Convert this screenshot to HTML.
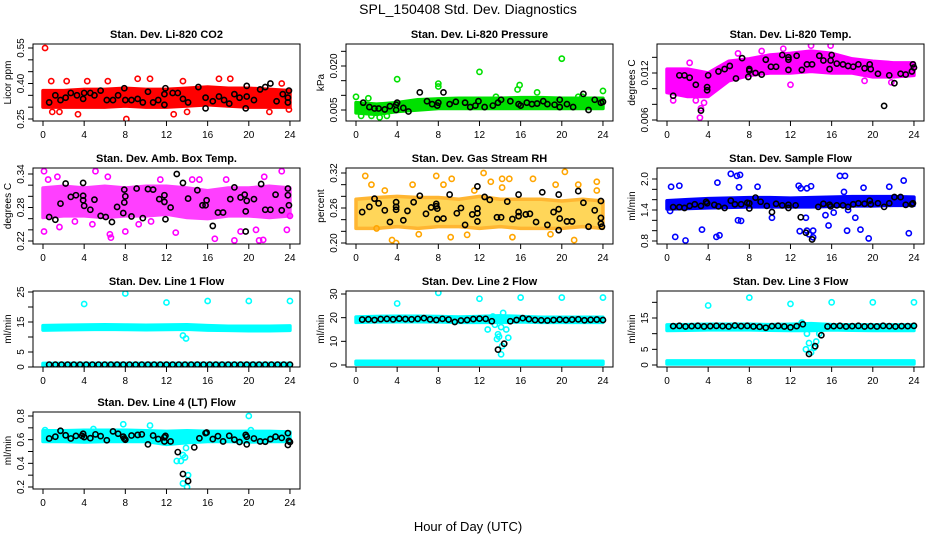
<!DOCTYPE html>
<html><head><meta charset="utf-8"><style>
html,body{margin:0;padding:0;background:#fff;}
svg{display:block;font-family:"Liberation Sans",Arial,sans-serif;}
</style></head><body>
<svg id="chart" width="936" height="540" viewBox="0 0 936 540" xmlns="http://www.w3.org/2000/svg">
<text x="468" y="14" text-anchor="middle" font-size="14">SPL_150408  Std. Dev. Diagnostics</text>
<text x="468" y="531" text-anchor="middle" font-size="13">Hour of Day (UTC)</text>
</svg>
<script>
const bandHours=[0,2,4,6,8,10,12,14,16,18,20,22,24];
const gridHours=[0.6,1.2,1.8,2.4,3.0,3.6,4.2,4.8,5.4,6.0,6.6,7.2,7.8,8.4,9.0,9.6,10.2,10.8,11.4,12.0,12.6,13.2,13.8,14.4,15.0,15.6,16.2,16.8,17.4,18.0,18.6,19.2,19.8,20.4,21.0,21.6,22.2,22.8,23.4,24.0];

const co2Lo=[0.30,0.30,0.30,0.30,0.305,0.30,0.30,0.305,0.31,0.305,0.30,0.30,0.30];
const co2Hi=[0.37,0.37,0.375,0.375,0.38,0.375,0.375,0.38,0.385,0.38,0.38,0.375,0.37];
const co2Out=[[0.2,0.55],[0.8,0.41],[2.3,0.41],[4.3,0.41],[8.1,0.25],[9.2,0.42],[10.4,0.42],[12.7,0.27],[14,0.28],[17.1,0.42],[18.2,0.42],[22,0.28],[23.2,0.40],[0.9,0.28],[1.6,0.28],[3.4,0.27],[23.9,0.29],[13.6,0.41],[6.3,0.41]];
const co2Blk=[[0.6,0.32],[1.2,0.35],[1.7,0.33],[2.2,0.34],[2.7,0.36],[3.3,0.35],[3.9,0.335],[4.0,0.36],[4.6,0.36],[5.0,0.35],[5.6,0.37],[6.2,0.33],[6.8,0.33],[7.3,0.35],[7.9,0.38],[8.0,0.33],[8.6,0.33],[9.2,0.335],[9.7,0.32],[10.2,0.365],[10.7,0.32],[11.2,0.33],[11.8,0.31],[11.8,0.355],[11.9,0.38],[12.6,0.36],[13.1,0.36],[13.6,0.335],[14.1,0.32],[15.1,0.385],[15.8,0.34],[15.8,0.295],[16.5,0.325],[17.1,0.345],[17.6,0.33],[18.1,0.315],[18.6,0.355],[19.1,0.34],[19.8,0.345],[19.8,0.39],[19.7,0.295],[20.5,0.33],[21.1,0.375],[21.6,0.385],[22.1,0.40],[22.7,0.325],[23.3,0.355],[23.8,0.34],[23.9,0.37],[23.8,0.32]];

const presLo=[0.004,0.0035,0.0045,0.005,0.0055,0.0055,0.0055,0.0055,0.0055,0.0055,0.0055,0.0055,0.0055];
const presHi=[0.0075,0.007,0.0075,0.0085,0.0088,0.009,0.009,0.009,0.0092,0.0092,0.009,0.009,0.009];
const presOut=[[0,0.0095],[1.2,0.009],[4,0.0155],[8,0.014],[8,0.013],[12,0.018],[13.6,0.0095],[15.7,0.012],[15.9,0.0135],[17.6,0.011],[20,0.0225],[21.6,0.0095],[22,0.0095],[24,0.0115],[0.5,0.003],[2.3,0.0025],[1.5,0.003],[3,0.003]];
const presBlk=[[0.7,0.0075],[1.3,0.006],[1.8,0.0055],[2.2,0.0055],[2.8,0.0052],[3.3,0.0063],[3.9,0.0068],[4.0,0.0075],[3.9,0.005],[4.6,0.0057],[5.1,0.0045],[6.2,0.011],[6.9,0.008],[7.4,0.007],[7.9,0.0065],[8.0,0.0075],[8.5,0.011],[9.1,0.007],[9.7,0.0078],[10.6,0.0075],[11.1,0.006],[11.6,0.0065],[11.9,0.008],[12.5,0.006],[13.3,0.0065],[13.8,0.0075],[14.1,0.0085],[15.0,0.008],[15.8,0.007],[16.0,0.0065],[16.6,0.0075],[17.1,0.007],[17.6,0.0072],[18.2,0.008],[18.6,0.007],[19.3,0.0068],[19.8,0.0085],[19.8,0.006],[20.5,0.007],[21.1,0.006],[22.1,0.0105],[22.6,0.005],[23.2,0.0085],[23.8,0.0075],[24,0.0078]];

const tempLo=[0.0095,0.009,0.009,0.011,0.0117,0.012,0.012,0.0122,0.012,0.012,0.0115,0.0115,0.0117];
const tempHi=[0.0125,0.0125,0.012,0.0135,0.0138,0.0143,0.0145,0.0148,0.0145,0.0138,0.0135,0.0133,0.0133];
const tempOut=[[3.2,0.0063],[3.3,0.0075],[0.6,0.0085],[14,0.0155],[15.9,0.0155],[11.3,0.0151],[12,0.0105],[9.2,0.0148],[6.9,0.0145],[2.2,0.0133],[21.8,0.0108],[19.2,0.011],[3.6,0.0082],[2.8,0.0085]];
const tempBlk=[[0.6,0.0091],[1.2,0.0117],[1.7,0.0117],[2.2,0.0114],[2.8,0.0105],[3.3,0.0072],[3.9,0.0098],[3.9,0.0102],[4.0,0.0117],[5.0,0.0122],[5.6,0.0125],[6.1,0.0129],[6.7,0.0113],[7.3,0.0139],[7.9,0.0115],[8.0,0.0123],[8.0,0.0125],[8.6,0.012],[9.2,0.0118],[9.6,0.0137],[10.1,0.0128],[10.6,0.0128],[11.2,0.0143],[11.8,0.014],[11.8,0.0137],[11.8,0.0124],[12.6,0.0142],[13.1,0.0124],[13.6,0.0131],[14.1,0.0131],[14.8,0.0142],[15.2,0.0136],[15.9,0.0136],[16.0,0.0143],[15.8,0.0125],[16.5,0.0132],[17.1,0.0131],[17.6,0.0129],[18.1,0.0128],[18.6,0.0131],[19.2,0.0126],[19.7,0.0131],[19.8,0.0125],[20.5,0.0119],[21.1,0.0078],[21.6,0.0117],[22.1,0.0107],[22.7,0.0119],[23.2,0.0118],[23.8,0.0122],[23.9,0.0131],[24,0.0127]];

const ambLo=[0.262,0.265,0.265,0.262,0.265,0.265,0.268,0.262,0.26,0.265,0.265,0.262,0.265];
const ambHi=[0.315,0.318,0.315,0.318,0.315,0.318,0.318,0.315,0.31,0.315,0.315,0.318,0.315];
const ambOut=[[0.1,0.345],[0.1,0.237],[0.5,0.33],[1.6,0.245],[5.1,0.345],[6.3,0.335],[6.5,0.232],[6.6,0.226],[8,0.237],[12.9,0.235],[16.7,0.224],[18.6,0.221],[19.2,0.237],[21,0.221],[21.4,0.222],[20.7,0.24],[23.2,0.345],[23.7,0.24],[24,0.265],[15.2,0.33],[11.4,0.33],[1.4,0.335],[4.8,0.25],[9.3,0.25],[14.5,0.33],[17.8,0.33],[21.5,0.335],[3.1,0.255],[10.5,0.255]];
const ambBlk=[[0.6,0.263],[1.2,0.258],[1.7,0.287],[2.2,0.323],[2.7,0.299],[3.2,0.302],[3.9,0.324],[3.9,0.301],[4.0,0.283],[3.9,0.293],[4.6,0.276],[5.0,0.294],[5.6,0.265],[6.1,0.263],[6.7,0.254],[7.2,0.281],[7.8,0.27],[7.9,0.312],[7.9,0.289],[8.0,0.3],[8.6,0.264],[9.1,0.314],[9.7,0.261],[10.2,0.313],[10.7,0.312],[11.3,0.295],[11.8,0.302],[11.9,0.259],[11.8,0.29],[12.4,0.28],[13.0,0.34],[13.6,0.324],[14.1,0.296],[15.0,0.311],[15.5,0.284],[15.8,0.284],[15.9,0.293],[16.5,0.247],[17.0,0.271],[17.5,0.271],[18.2,0.295],[18.6,0.316],[19.2,0.298],[19.6,0.303],[19.7,0.273],[19.8,0.292],[19.7,0.237],[20.5,0.295],[21.2,0.322],[21.6,0.276],[22.1,0.276],[22.6,0.303],[23.2,0.275],[23.8,0.314],[23.8,0.302],[23.9,0.284]];

const rhLo=[0.225,0.225,0.228,0.225,0.228,0.228,0.225,0.228,0.225,0.225,0.225,0.228,0.225];
const rhHi=[0.275,0.278,0.28,0.278,0.278,0.275,0.28,0.275,0.275,0.275,0.272,0.275,0.272];
const rhOut=[[0.9,0.315],[1.5,0.30],[2,0.225],[3.5,0.205],[3.9,0.20],[7.8,0.315],[9.3,0.31],[10.8,0.214],[12.4,0.32],[13.1,0.305],[14.2,0.31],[14.2,0.295],[14.9,0.31],[15.2,0.21],[17.2,0.31],[20.3,0.322],[21.2,0.205],[21.6,0.30],[23.4,0.305],[23.4,0.29],[8.5,0.30],[9.2,0.21],[2.8,0.29],[5.5,0.30],[6.1,0.215],[11.5,0.29],[18.9,0.215],[19.4,0.30]];
const rhBlk=[[0.6,0.253],[1.3,0.262],[1.8,0.276],[2.2,0.268],[2.8,0.256],[3.3,0.236],[3.9,0.27],[3.9,0.257],[3.9,0.262],[4.6,0.239],[5.0,0.255],[5.6,0.27],[6.2,0.281],[6.8,0.25],[7.3,0.261],[7.8,0.267],[7.8,0.263],[7.9,0.259],[7.9,0.241],[8.5,0.242],[9.1,0.283],[9.8,0.251],[10.2,0.26],[10.6,0.231],[11.3,0.249],[11.8,0.237],[11.8,0.259],[11.8,0.251],[11.8,0.297],[12.5,0.279],[13.0,0.274],[13.7,0.244],[14.1,0.244],[14.7,0.271],[15.2,0.241],[15.8,0.283],[15.8,0.253],[15.8,0.246],[16.5,0.249],[16.9,0.25],[17.5,0.236],[18.1,0.287],[18.6,0.231],[19.2,0.253],[19.7,0.283],[19.7,0.258],[19.7,0.222],[19.8,0.242],[20.5,0.237],[21.0,0.237],[21.6,0.289],[22.1,0.269],[22.6,0.228],[23.2,0.256],[23.8,0.272],[23.8,0.243],[23.8,0.233],[23.9,0.228]];

const flowLo=[1.42,1.43,1.44,1.45,1.46,1.46,1.46,1.46,1.47,1.48,1.48,1.49,1.49];
const flowHi=[1.58,1.6,1.62,1.63,1.64,1.64,1.63,1.64,1.65,1.66,1.66,1.66,1.65];
const flowOut=[[0.4,1.85],[1.2,1.87],[0.8,0.88],[1.8,0.81],[3.4,1.02],[4.8,0.88],[5.1,0.91],[4.9,1.93],[6.2,2.1],[6.8,2.06],[7.1,2.08],[6.9,1.2],[7.2,1.19],[7.0,1.84],[8.8,1.85],[10.2,1.25],[12.9,0.99],[12.8,1.87],[13.0,1.82],[13.5,1.25],[13.6,1.0],[13.8,0.93],[14.2,1.0],[13.6,1.82],[15.7,1.1],[15.4,1.3],[16.8,2.06],[17.3,2.06],[17.5,1.0],[17.6,1.4],[18.3,1.25],[18.8,1.02],[19.6,0.85],[19.1,1.83],[21.6,1.85],[23.0,1.97],[23.5,0.95],[14,1.86],[14.2,0.87],[0.3,1.38],[16.2,1.35],[17.2,1.75]];
const flowBlk=[[0.6,1.455],[1.2,1.455],[1.7,1.44],[2.2,1.48],[2.7,1.51],[3.3,1.48],[3.8,1.56],[3.9,1.53],[4.6,1.5],[5.0,1.47],[5.6,1.44],[6.2,1.58],[6.6,1.51],[7.2,1.51],[7.8,1.54],[8.0,1.53],[8.0,1.43],[8.6,1.64],[9.1,1.56],[9.7,1.48],[10.2,1.36],[10.6,1.52],[11.2,1.49],[11.8,1.5],[11.8,1.44],[12.5,1.49],[13.0,1.26],[13.5,0.96],[14.1,0.83],[14.7,1.46],[15.2,1.52],[15.8,1.5],[15.9,1.47],[16.5,1.49],[17.1,1.49],[17.6,1.46],[18.1,1.51],[18.6,1.53],[19.2,1.52],[19.7,1.58],[19.8,1.51],[20.5,1.53],[21.1,1.46],[21.6,1.53],[22.1,1.65],[22.7,1.65],[23.2,1.5],[23.8,1.51],[23.9,1.53]];

const l1Lo=[12.3,12.4,12.5,12.6,12.5,12.4,12.5,12.6,12.3,12.2,12.1,12.1,12.2];
const l1Hi=[13.8,13.9,14.0,14.1,14.0,13.9,14.0,14.1,13.8,13.6,13.6,13.6,13.7];
const l1Lo2=[0.2,0.2,0.2,0.2,0.2,0.2,0.2,0.2,0.2,0.2,0.2,0.2,0.2];
const l1Hi2=[1.2,1.2,1.2,1.2,1.2,1.2,1.2,1.2,1.2,1.2,1.2,1.2,1.2];
const l1Out=[[4,21],[8,24.5],[12,21.5],[16,22],[20,22],[24,22],[13.6,10.5],[13.9,9.5]];
const l1Blk=[0.8,0.8,0.8,0.8,0.8,0.8,0.8,0.8,0.8,0.8,0.8,0.8,0.8,0.8,0.8,0.8,0.8,0.8,0.8,0.8,0.8,0.8,0.8,0.8,0.8,0.8,0.8,0.8,0.8,0.8,0.8,0.8,0.8,0.8,0.8,0.8,0.8,0.8,0.8,0.8];

const l2Lo=[18.0,18.2,18.3,18.3,18.2,18.0,18.0,18.0,18.2,18.0,18.0,18.0,18.0];
const l2Hi=[20.3,20.5,20.6,20.6,20.5,20.3,20.5,20.8,20.5,20.2,20.2,20.2,20.2];
const l2Lo2=[0.3,0.3,0.3,0.3,0.3,0.3,0.3,0.3,0.3,0.3,0.3,0.3,0.3];
const l2Hi2=[1.6,1.6,1.6,1.6,1.6,1.6,1.6,1.6,1.6,1.6,1.6,1.6,1.6];
const l2Out=[[4,26],[8,30.5],[12,28],[16,28.5],[20,28.5],[24,28.5],[12.8,15],[13.5,17],[13.7,11],[13.8,13],[13.9,12],[14.1,4.5],[14.1,16],[14.3,22],[14.6,15],[14.8,11.5],[14.2,8],[14.5,20],[13.3,20.5]];
const l2Blk=[19.2,19.3,19.0,19.4,19.5,19.3,19.6,19.4,19.3,19.5,19.8,19.3,19.0,19.5,19.2,18.2,18.8,19.0,19.4,19.6,19.5,18.5,6.5,9.0,18.5,19.0,19.8,19.4,19.0,18.9,18.8,19.0,19.2,19.0,19.2,19.3,18.9,19.1,19.2,19.0];

const l3Lo=[11.0,11.1,11.2,11.2,11.2,11.1,11.0,11.0,11.2,11.1,11.0,11.0,11.0];
const l3Hi=[12.8,12.9,13.0,13.0,13.0,12.9,13.0,13.2,12.9,12.8,12.8,12.8,12.8];
const l3Lo2=[0.3,0.3,0.3,0.3,0.3,0.3,0.3,0.3,0.3,0.3,0.3,0.3,0.3];
const l3Hi2=[1.3,1.3,1.3,1.3,1.3,1.3,1.3,1.3,1.3,1.3,1.3,1.3,1.3];
const l3Out=[[4,19],[8,21.5],[12,19.5],[16,20],[20,20],[24,20],[13.5,5],[13.8,7],[14,4],[14.3,5.5],[14.5,7.5],[14.8,10],[13.1,13.5],[13.6,10]];
const l3Blk=[12.4,12.5,12.3,12.4,12.5,12.3,12.4,12.5,12.4,12.3,12.6,12.4,12.5,12.3,12.2,11.9,12.4,12.5,12.3,12.0,12.4,13.0,3.5,6.0,9.5,12.3,12.4,12.5,12.3,12.4,12.5,12.3,12.4,12.3,12.5,12.4,12.3,12.4,12.4,12.5];

const l4Lo=[0.585,0.585,0.58,0.585,0.585,0.585,0.56,0.575,0.585,0.585,0.58,0.585,0.585];
const l4Hi=[0.675,0.675,0.68,0.68,0.68,0.675,0.67,0.675,0.67,0.67,0.67,0.67,0.665];
const l4Out=[[7.8,0.73],[10.4,0.72],[20,0.80],[13,0.42],[13.4,0.42],[13.8,0.45],[13.9,0.53],[14.1,0.30],[13.6,0.23],[14,0.20],[13.6,0.47],[20.2,0.68],[0.2,0.68],[4.9,0.69]];
const l4Blk=[[0.6,0.61],[1.2,0.625],[1.7,0.675],[2.2,0.637],[2.7,0.61],[3.2,0.632],[3.8,0.632],[3.9,0.65],[4.0,0.622],[4.6,0.613],[5.1,0.645],[5.6,0.63],[6.2,0.595],[6.8,0.67],[7.3,0.65],[7.8,0.625],[7.9,0.61],[8.0,0.6],[8.6,0.635],[9.2,0.64],[9.6,0.645],[10.2,0.56],[10.7,0.635],[11.2,0.605],[11.8,0.585],[11.9,0.632],[11.8,0.62],[12.4,0.585],[13.1,0.495],[13.6,0.31],[14.1,0.25],[14.7,0.535],[15.2,0.612],[15.8,0.655],[15.9,0.66],[16.5,0.605],[17.0,0.63],[17.5,0.585],[18.1,0.633],[18.6,0.6],[19.1,0.58],[19.7,0.64],[19.8,0.625],[19.8,0.56],[20.5,0.61],[21.1,0.585],[21.6,0.583],[22.1,0.605],[22.6,0.625],[23.2,0.615],[23.8,0.655],[23.8,0.555],[23.9,0.59],[24,0.58]];

const xTicks=[0,4,8,12,16,20,24];

const svg=document.getElementById('chart');
const NS='http://www.w3.org/2000/svg';
function mk(tag,attrs,parent){const e=document.createElementNS(NS,tag);for(const k in attrs)e.setAttribute(k,attrs[k]);(parent||svg).appendChild(e);return e;}
const colX=[43,356,667];
const rowY=[[44,121],[168,244],[291,367],[412,489]];
const PXH=10.29;

const panels=[
 {name:'co2',title:'Stan. Dev. Li-820 CO2',ylab:'Licor ppm',col:0,row:0,a:[0.25,119],b:[0.55,48],ticks:[0.25,0.30,0.35,0.40,0.45,0.50,0.55],labels:['0.25','0.40','0.55'],color:'#ff0000',bands:[[co2Lo,co2Hi]],out:co2Out,blk:co2Blk},
 {name:'pressure',title:'Stan. Dev. Li-820 Pressure',ylab:'kPa',col:1,row:0,a:[0.005,110],b:[0.020,66],ticks:[0.005,0.010,0.015,0.020,0.025],labels:['0.005','0.020'],color:'#00e000',bands:[[presLo,presHi]],out:presOut,blk:presBlk},
 {name:'temp',title:'Stan. Dev. Li-820 Temp.',ylab:'degrees C',col:2,row:0,a:[0.006,120],b:[0.012,73],ticks:[0.006,0.008,0.010,0.012,0.014],labels:['0.006','0.012'],color:'#ff00ff',bands:[[tempLo,tempHi]],out:tempOut,blk:tempBlk},
 {name:'amb-box-temp',title:'Stan. Dev. Amb. Box Temp.',ylab:'degrees C',col:0,row:1,a:[0.22,241],b:[0.34,174],ticks:[0.22,0.24,0.26,0.28,0.30,0.32,0.34],labels:['0.22','0.28','0.34'],color:'#ff00ff',op:0.75,bands:[[ambLo,ambHi]],out:ambOut,blk:ambBlk},
 {name:'gas-rh',title:'Stan. Dev. Gas Stream RH',ylab:'percent',col:1,row:1,a:[0.20,243],b:[0.32,173],ticks:[0.20,0.22,0.24,0.26,0.28,0.30,0.32],labels:['0.20','0.26','0.32'],color:'#ffa500',fill:'#ffcc30',op:0.8,bands:[[rhLo,rhHi]],out:rhOut,blk:rhBlk},
 {name:'sample-flow',title:'Stan. Dev. Sample Flow',ylab:'ml/min',col:2,row:1,a:[0.8,241],b:[2.0,179],ticks:[0.8,1.0,1.2,1.4,1.6,1.8,2.0],labels:['0.8','1.4','2.0'],color:'#0000ff',bands:[[flowLo,flowHi]],out:flowOut,blk:flowBlk},
 {name:'line1-flow',title:'Stan. Dev. Line 1 Flow',ylab:'ml/min',col:0,row:2,a:[0,367],b:[25,292],ticks:[0,5,10,15,20,25],labels:['0','5','15','25'],color:'#00ffff',bands:[[l1Lo,l1Hi],[l1Lo2,l1Hi2]],out:l1Out,blkGrid:l1Blk},
 {name:'line2-flow',title:'Stan. Dev. Line 2 Flow',ylab:'ml/min',col:1,row:2,a:[0,365],b:[30,294],ticks:[0,10,20,30],labels:['0','10','20','30'],color:'#00ffff',bands:[[l2Lo,l2Hi],[l2Lo2,l2Hi2]],out:l2Out,blkGrid:l2Blk},
 {name:'line3-flow',title:'Stan. Dev. Line 3 Flow',ylab:'ml/min',col:2,row:2,a:[0,365],b:[15,318],ticks:[0,5,10,15,20],labels:['0','5','15'],color:'#00ffff',bands:[[l3Lo,l3Hi],[l3Lo2,l3Hi2]],out:l3Out,blkGrid:l3Blk},
 {name:'line4-flow',title:'Stan. Dev. Line 4 (LT) Flow',ylab:'ml/min',col:0,row:3,a:[0.2,487],b:[0.8,416],ticks:[0.2,0.3,0.4,0.5,0.6,0.7,0.8],labels:['0.2','0.4','0.6','0.8'],color:'#00ffff',bands:[[l4Lo,l4Hi]],out:l4Out,blk:l4Blk}
];

panels.forEach(p=>{
  const x0=colX[p.col];const top=rowY[p.row][0],bot=rowY[p.row][1];
  const left=x0-10,right=x0+257;
  const X=h=>x0+h*PXH;
  const Y=v=>p.a[1]+(v-p.a[0])*(p.b[1]-p.a[1])/(p.b[0]-p.a[0]);
  const g=mk('g',{});
  
  
  const clipId='clip-'+p.name;
  const cp=mk('clipPath',{id:clipId},g);mk('rect',{x:left,y:top,width:right-left,height:bot-top},cp);
  const plot=mk('g',{'clip-path':'url(#'+clipId+')'},g);
  p.bands.forEach((bd,bi)=>{
    const lo=bd[0],hi=bd[1];
    let pts=bandHours.map((h,i)=>X(h)+','+Y(hi[i]));
    pts=pts.concat(bandHours.slice().reverse().map((h,j)=>{const i=bandHours.length-1-j;return X(h)+','+Y(lo[i]);}));
    const poly=mk('polygon',{points:pts.join(' '),fill:p.fill||p.color,stroke:p.color,'stroke-width':3.5,'stroke-linejoin':'round',opacity:p.op||1},plot);
    
    
  });
  p.out.forEach(d=>{
    const c=mk('circle',{cx:X(d[0]),cy:Y(d[1]),r:2.6,fill:'none',stroke:p.color,'stroke-width':1.6},plot);
    
    
  });
  const blk=p.blk?p.blk:gridHours.map((h,i)=>[h,p.blkGrid[i]]);
  blk.forEach(d=>{
    const c=mk('circle',{cx:X(d[0]),cy:Y(d[1]),r:2.6,fill:'none',stroke:'#000','stroke-width':1.6},plot);
    
    
  });
  const box=mk('rect',{x:left,y:top,width:right-left,height:bot-top,fill:'none',stroke:'#000','stroke-width':1},g);
  
  
  const t=mk('text',{x:(left+right)/2,y:top-6,'text-anchor':'middle','font-size':11,'font-weight':'bold'},g);
  t.textContent=p.title;
  
  
  mk('line',{x1:X(0),x2:X(24),y1:bot,y2:bot,stroke:'#000'},g);
  xTicks.forEach(h=>{
    mk('line',{x1:X(h),x2:X(h),y1:bot,y2:bot+5,stroke:'#000'},g);
    const tl=mk('text',{x:X(h),y:bot+17,'text-anchor':'middle','font-size':10},g);
    tl.textContent=h;
    
    
  });
  const ax=left;
  mk('line',{x1:ax,x2:ax,y1:Y(p.ticks[0]),y2:Y(p.ticks[p.ticks.length-1]),stroke:'#000'},g);
  p.ticks.forEach(v=>mk('line',{x1:ax-5,x2:ax,y1:Y(v),y2:Y(v),stroke:'#000'},g));
  p.labels.forEach(s=>{
    const yy=Y(parseFloat(s));
    const tl=mk('text',{x:ax-9,y:yy,'text-anchor':'middle','font-size':10,transform:'rotate(-90 '+(ax-9)+' '+yy+')'},g);
    tl.textContent=s;
    
    
  });
  const yc=(top+bot)/2;
  const yl=mk('text',{x:ax-22,y:yc,'text-anchor':'middle','font-size':10,transform:'rotate(-90 '+(ax-22)+' '+yc+')'},g);
  yl.textContent=p.ylab;
  
  
});
</script>
</body></html>
